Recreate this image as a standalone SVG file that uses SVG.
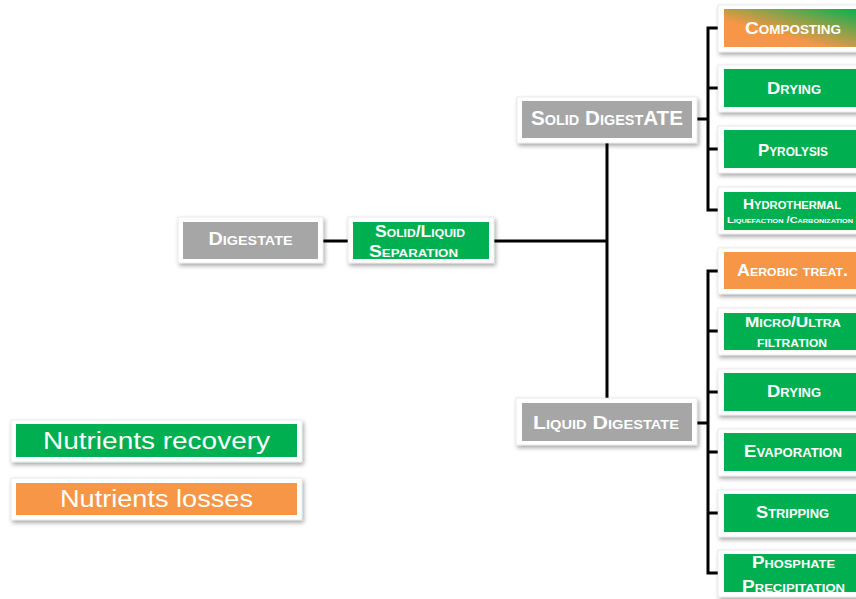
<svg xmlns="http://www.w3.org/2000/svg" width="856" height="599" viewBox="0 0 856 599">
<defs>
<filter id="sh" x="-10%" y="-20%" width="130%" height="160%">
<feDropShadow dx="1.5" dy="2.5" stdDeviation="2" flood-color="#000" flood-opacity="0.35"/>
</filter>
<linearGradient id="comp" x1="0" y1="1" x2="1" y2="0">
<stop offset="0.35" stop-color="#F79646"/>
<stop offset="1" stop-color="#00B050"/>
</linearGradient>
<style>
.frame{fill:#fff;stroke:#dcdcdc;stroke-width:0.6;filter:url(#sh)}
.gray{fill:#A6A6A6}
.green{fill:#00B050}
.orange{fill:#F79646}
.t{font-family:"Liberation Sans",Arial,sans-serif;font-weight:bold;font-variant:small-caps;fill:#fff;text-anchor:middle}
.leg{font-family:"Liberation Sans",Arial,sans-serif;fill:#fff;text-anchor:middle;font-size:23px}
.ln{fill:none;stroke:#000;stroke-width:3}
</style>
</defs>

<g id="connectors">
<path class="ln" d="M323 241 H348"/>
<path class="ln" d="M494 241 H607"/>
<path class="ln" d="M607 143 V398"/>
<path class="ln" d="M697 119 H708"/>
<path class="ln" d="M720 28 H708 V210 H720 M708 88 H720 M708 149 H720"/>
<path class="ln" d="M697 423 H708"/>
<path class="ln" d="M720 271 H708 V573 H720 M708 331 H720 M708 392 H720 M708 452 H720 M708 513 H720"/>
</g>

<g id="digestate">
<rect class="frame" x="178" y="217" width="145" height="46"/>
<rect class="gray" x="183" y="222" width="135" height="37"/>
<text class="t" x="250.5" y="245" font-size="18" textLength="84" lengthAdjust="spacingAndGlyphs">Digestate</text>
</g>

<g id="separation">
<rect class="frame" x="348" y="217" width="146" height="46"/>
<rect class="green" x="353" y="222" width="136" height="37"/>
<text class="t" x="420" y="237" font-size="16" textLength="90" lengthAdjust="spacingAndGlyphs">Solid/Liquid</text>
<text class="t" x="413.5" y="257" font-size="16" textLength="89" lengthAdjust="spacingAndGlyphs">Separation</text>
</g>

<g id="solid-digestate">
<rect class="frame" x="517" y="97" width="180" height="46"/>
<rect class="gray" x="522" y="101" width="170" height="37"/>
<text class="t" x="607" y="125" font-size="20" textLength="152" lengthAdjust="spacingAndGlyphs">Solid  DigestATE</text>
</g>

<g id="liquid-digestate">
<rect class="frame" x="516" y="398" width="181" height="47"/>
<rect class="gray" x="522" y="403" width="170" height="38"/>
<text class="t" x="606" y="429" font-size="19" textLength="146" lengthAdjust="spacingAndGlyphs">Liquid Digestate</text>
</g>

<g id="composting">
<rect class="frame" x="718" y="5" width="150" height="47"/>
<rect fill="url(#comp)" x="724" y="9" width="140" height="38"/>
<text class="t" x="793" y="34" font-size="17" textLength="96" lengthAdjust="spacingAndGlyphs">Composting</text>
</g>

<g id="drying-solid">
<rect class="frame" x="718" y="65" width="150" height="47"/>
<rect class="green" x="724" y="69" width="140" height="38"/>
<text class="t" x="794" y="94" font-size="17" textLength="54" lengthAdjust="spacingAndGlyphs">Drying</text>
</g>

<g id="pyrolysis">
<rect class="frame" x="718" y="126" width="150" height="47"/>
<rect class="green" x="724" y="130" width="140" height="38"/>
<text class="t" x="793" y="156" font-size="17" textLength="70" lengthAdjust="spacingAndGlyphs">Pyrolysis</text>
</g>

<g id="hydrothermal">
<rect class="frame" x="718" y="187" width="150" height="47"/>
<rect class="green" x="724" y="192" width="140" height="38"/>
<text class="t" x="792" y="209" font-size="15" textLength="98" lengthAdjust="spacingAndGlyphs">Hydrothermal</text>
<text class="t" x="790" y="223" font-size="9" textLength="126" lengthAdjust="spacingAndGlyphs">Liquefaction /Carbonization</text>
</g>

<g id="aerobic">
<rect class="frame" x="718" y="248" width="150" height="46"/>
<rect class="orange" x="724" y="252" width="140" height="37"/>
<text class="t" x="792.5" y="276" font-size="16" textLength="111" lengthAdjust="spacingAndGlyphs">Aerobic treat.</text>
</g>

<g id="filtration">
<rect class="frame" x="718" y="308" width="150" height="47"/>
<rect class="green" x="724" y="313" width="140" height="37"/>
<text class="t" x="793" y="327" font-size="15" textLength="96" lengthAdjust="spacingAndGlyphs">Micro/Ultra</text>
<text class="t" x="792" y="347" font-size="15" textLength="70" lengthAdjust="spacingAndGlyphs">filtration</text>
</g>

<g id="drying-liquid">
<rect class="frame" x="718" y="369" width="150" height="46"/>
<rect class="green" x="724" y="373" width="140" height="38"/>
<text class="t" x="794" y="397" font-size="17" textLength="54" lengthAdjust="spacingAndGlyphs">Drying</text>
</g>

<g id="evaporation">
<rect class="frame" x="718" y="429" width="150" height="47"/>
<rect class="green" x="724" y="433" width="140" height="38"/>
<text class="t" x="793" y="457" font-size="17" textLength="98" lengthAdjust="spacingAndGlyphs">Evaporation</text>
</g>

<g id="stripping">
<rect class="frame" x="718" y="490" width="150" height="47"/>
<rect class="green" x="724" y="494" width="140" height="38"/>
<text class="t" x="792.5" y="518" font-size="17" textLength="73" lengthAdjust="spacingAndGlyphs">Stripping</text>
</g>

<g id="phosphate">
<rect class="frame" x="718" y="550" width="150" height="47"/>
<rect class="green" x="724" y="554" width="140" height="38"/>
<text class="t" x="793.5" y="568" font-size="16" textLength="83" lengthAdjust="spacingAndGlyphs">Phosphate</text>
<text class="t" x="793.5" y="592" font-size="16" textLength="103" lengthAdjust="spacingAndGlyphs">Precipitation</text>
</g>

<g id="legend-recovery">
<rect class="frame" x="11" y="420" width="291" height="42"/>
<rect class="green" x="16" y="424" width="281" height="33"/>
<text class="leg" x="156.5" y="449" textLength="227" lengthAdjust="spacingAndGlyphs">Nutrients recovery</text>
</g>

<g id="legend-losses">
<rect class="frame" x="11" y="478" width="291" height="42"/>
<rect class="orange" x="16" y="483" width="281" height="32"/>
<text class="leg" x="156.5" y="507" textLength="193" lengthAdjust="spacingAndGlyphs">Nutrients losses</text>
</g>
</svg>
